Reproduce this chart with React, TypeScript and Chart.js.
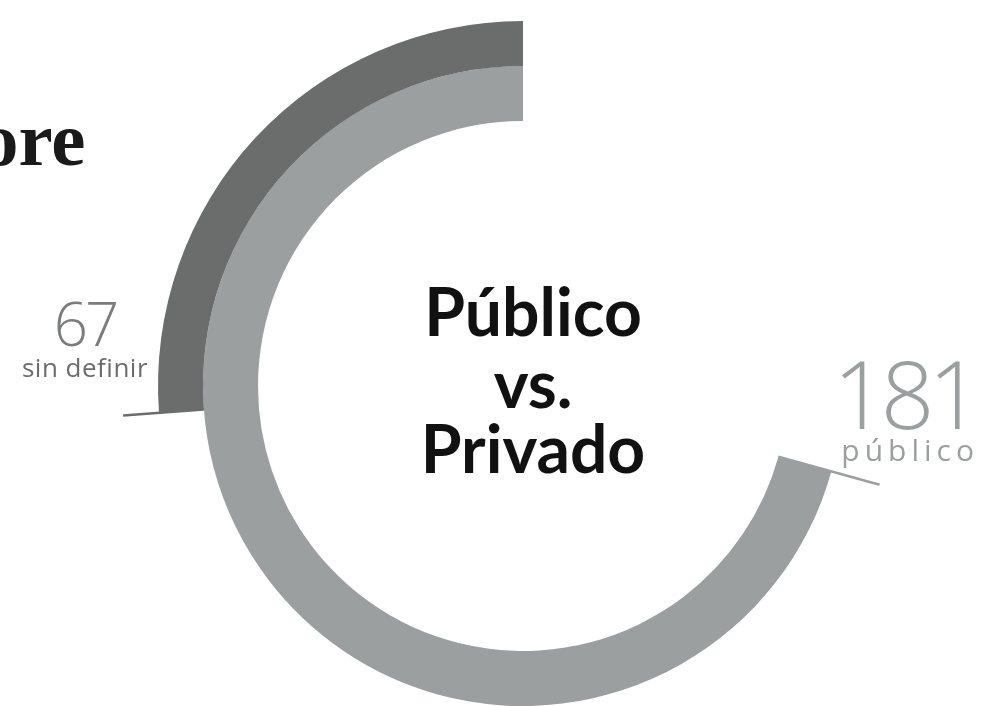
import React, { useEffect, useRef } from "react";
import { Chart, registerables } from "chart.js";

Chart.register(...registerables);

// ---- data ----
const categorias = ["sin definir", "público"];
const valores = [67, 181];
const escalaMax = 256;
const etiquetasValor = ["67", "181"];
const tituloLineas = ["Público", "vs.", "Privado"];
const tituloCortado = "ore";

const colores = ["#6b6d6c", "#9c9fa0"];
const pesos = [45, 55];

const leaderPlugin = {
  id: "leaders",
  afterDatasetsDraw(chart: any) {
    const ctx = chart.ctx;
    const m0 = chart.getDatasetMeta(0);
    const m1 = chart.getDatasetMeta(1);
    const a0 = m0.data[1];
    const a1 = m1.data[1];
    if (!a0 || !a1) return;
    const lines = [
      { arc: a0, r1: a1.outerRadius, r2: a0.outerRadius + 36, color: "#6b6d6c" },
      { arc: a1, r1: a1.innerRadius, r2: a0.outerRadius + 5, color: "#9c9fa0" },
    ];
    ctx.save();
    ctx.lineWidth = 2.5;
    for (const l of lines) {
      const ang = l.arc.startAngle;
      ctx.strokeStyle = l.color;
      ctx.beginPath();
      ctx.moveTo(l.arc.x + l.r1 * Math.cos(ang), l.arc.y + l.r1 * Math.sin(ang));
      ctx.lineTo(l.arc.x + l.r2 * Math.cos(ang), l.arc.y + l.r2 * Math.sin(ang));
      ctx.stroke();
    }
    ctx.restore();
  },
};

export default function App() {
  const ref = useRef<HTMLCanvasElement | null>(null);

  useEffect(() => {
    document.body.style.margin = "0";
    document.body.style.overflow = "hidden";
    const canvas = ref.current;
    if (!canvas) return;
    const chart = new Chart(canvas, {
      type: "doughnut",
      data: {
        labels: ["resto", "valor"],
        datasets: valores.map((v, i) => ({
          label: categorias[i],
          data: [escalaMax - v, v],
          backgroundColor: ["rgba(0,0,0,0)", colores[i]],
          borderWidth: 0,
          weight: pesos[i],
          clip: false,
        })) as any,
      },
      options: {
        responsive: false,
        maintainAspectRatio: false,
        animation: false,
        events: [],
        radius: 365,
        cutout: "72.6%",
        rotation: 0,
        layout: { padding: { left: 63, top: 66, right: 0, bottom: 0 } },
        plugins: {
          legend: { display: false },
          tooltip: { enabled: false },
        },
      } as any,
      plugins: [leaderPlugin],
    });
    return () => chart.destroy();
  }, []);

  const base: React.CSSProperties = { position: "absolute", lineHeight: 1, whiteSpace: "nowrap" };

  return (
    <div style={{ position: "absolute", left: 0, top: 0, width: 983, height: 706, overflow: "hidden", background: "#fff" }}>
      <canvas ref={ref} width={983} height={706} style={{ position: "absolute", left: 0, top: 0 }} />
      <div
        style={{
          ...base,
          left: -20,
          top: 101,
          fontFamily: "'Liberation Serif', serif",
          fontWeight: 700,
          fontSize: 77,
          color: "#1a1a1a",
        }}
      >
        {tituloCortado}
      </div>
      {tituloLineas.map((t, i) => (
        <div
          key={t}
          style={{
            ...base,
            left: 333,
            width: 400,
            textAlign: "center",
            top: [277.5, 349.5, 414.5][i],
            fontFamily: "Lato, sans-serif",
            fontWeight: 700,
            fontSize: 66,
            color: "#111",
          }}
        >
          {t}
        </div>
      ))}
      <div
        style={{
          ...base,
          left: 0,
          width: 170,
          textAlign: "center",
          top: 293,
          fontFamily: "'Open Sans', sans-serif",
          fontWeight: 300,
          fontSize: 60,
          letterSpacing: -3,
          color: "#7b7d7d",
        }}
      >
        {etiquetasValor[0]}
      </div>
      <div
        style={{
          ...base,
          left: 0,
          width: 170,
          textAlign: "center",
          top: 354,
          fontFamily: "'Open Sans', sans-serif",
          fontWeight: 400,
          fontSize: 26,
          letterSpacing: 0.5,
          color: "#6b6d6c",
        }}
      >
        {categorias[0]}
      </div>
      <div
        style={{
          ...base,
          left: 700,
          width: 276,
          textAlign: "right",
          top: 346,
          fontFamily: "'Open Sans', sans-serif",
          fontWeight: 300,
          fontSize: 94,
          letterSpacing: -6,
          color: "#9c9fa0",
        }}
      >
        {etiquetasValor[1]}
      </div>
      <div
        style={{
          ...base,
          left: 700,
          width: 279,
          textAlign: "right",
          top: 435,
          fontFamily: "'Open Sans', sans-serif",
          fontWeight: 400,
          fontSize: 30,
          letterSpacing: 5,
          color: "#9c9fa0",
        }}
      >
        {categorias[1]}
      </div>
    </div>
  );
}
